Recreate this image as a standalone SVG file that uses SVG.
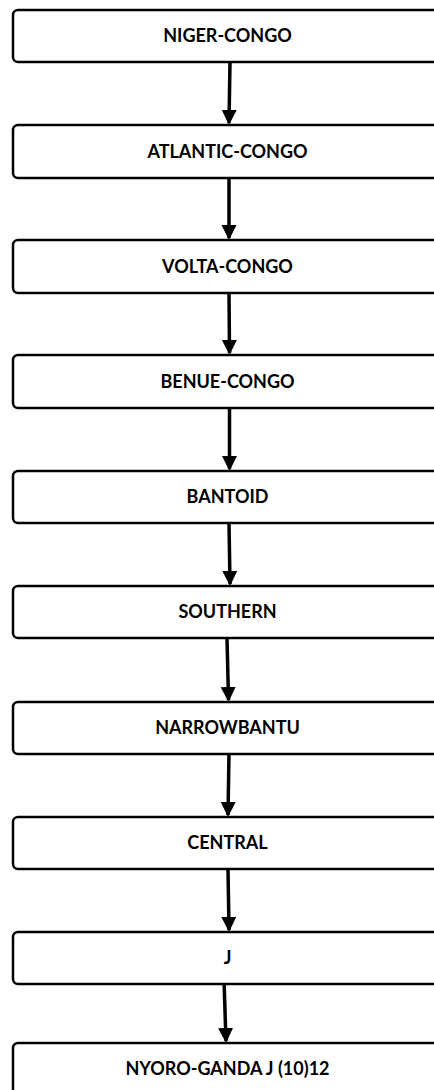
<svg xmlns="http://www.w3.org/2000/svg" width="434" height="1090" viewBox="0 0 434 1090">
<style>
.box{fill:#fff;stroke:#000;stroke-width:2.5}
.lbl{font-family:Lato,"Liberation Sans",sans-serif;font-weight:bold;font-size:18px;fill:#000;text-anchor:middle}
.arr{stroke:#000;stroke-width:3.5;fill:none;marker-end:url(#ah)}
</style>
<defs>
<marker id="ah" markerUnits="userSpaceOnUse" markerWidth="16" markerHeight="16" refX="13" refY="7.5" orient="auto">
<path d="M0,0 L15,7.5 L0,15 Z" fill="#000"/>
</marker>
</defs>
<rect width="434" height="1090" fill="#fff"/>
<g id="connectors">
<line class="arr" x1="230" y1="62" x2="229" y2="123"/>
<line class="arr" x1="229" y1="178" x2="229" y2="238"/>
<line class="arr" x1="229" y1="293" x2="229.5" y2="353"/>
<line class="arr" x1="229.5" y1="408" x2="229.5" y2="469"/>
<line class="arr" x1="229" y1="523" x2="230" y2="584"/>
<line class="arr" x1="227" y1="638" x2="228.5" y2="700"/>
<line class="arr" x1="229" y1="754" x2="228" y2="815"/>
<line class="arr" x1="228" y1="869" x2="229" y2="930"/>
<line class="arr" x1="224" y1="980" x2="226" y2="1041"/>
</g>
<g id="n1"><rect class="box" x="13" y="10" width="429" height="52" rx="5"/><text class="lbl" x="227.5" y="42">NIGER-CONGO</text></g>
<g id="n2"><rect class="box" x="13" y="125" width="429" height="53" rx="5"/><text class="lbl" x="227.5" y="157.5">ATLANTIC-CONGO</text></g>
<g id="n3"><rect class="box" x="13" y="240" width="429" height="53" rx="5"/><text class="lbl" x="227.5" y="272.5">VOLTA-CONGO</text></g>
<g id="n4"><rect class="box" x="13" y="355" width="429" height="53" rx="5"/><text class="lbl" x="227.5" y="387.5">BENUE-CONGO</text></g>
<g id="n5"><rect class="box" x="13" y="471" width="429" height="52" rx="5"/><text class="lbl" x="227.5" y="503">BANTOID</text></g>
<g id="n6"><rect class="box" x="13" y="586" width="429" height="52" rx="5"/><text class="lbl" x="227.5" y="618">SOUTHERN</text></g>
<g id="n7"><rect class="box" x="13" y="702" width="429" height="52" rx="5"/><text class="lbl" x="227.5" y="734">NARROWBANTU</text></g>
<g id="n8"><rect class="box" x="13" y="817" width="429" height="52" rx="5"/><text class="lbl" x="227.5" y="849">CENTRAL</text></g>
<g id="n9"><rect class="box" x="13" y="932" width="429" height="52" rx="5"/><text class="lbl" x="227.5" y="964">J</text></g>
<g id="n10"><rect class="box" x="13" y="1043" width="429" height="60" rx="5"/><text class="lbl" x="227.5" y="1075">NYORO-GANDA J (10)12</text></g>
</svg>
